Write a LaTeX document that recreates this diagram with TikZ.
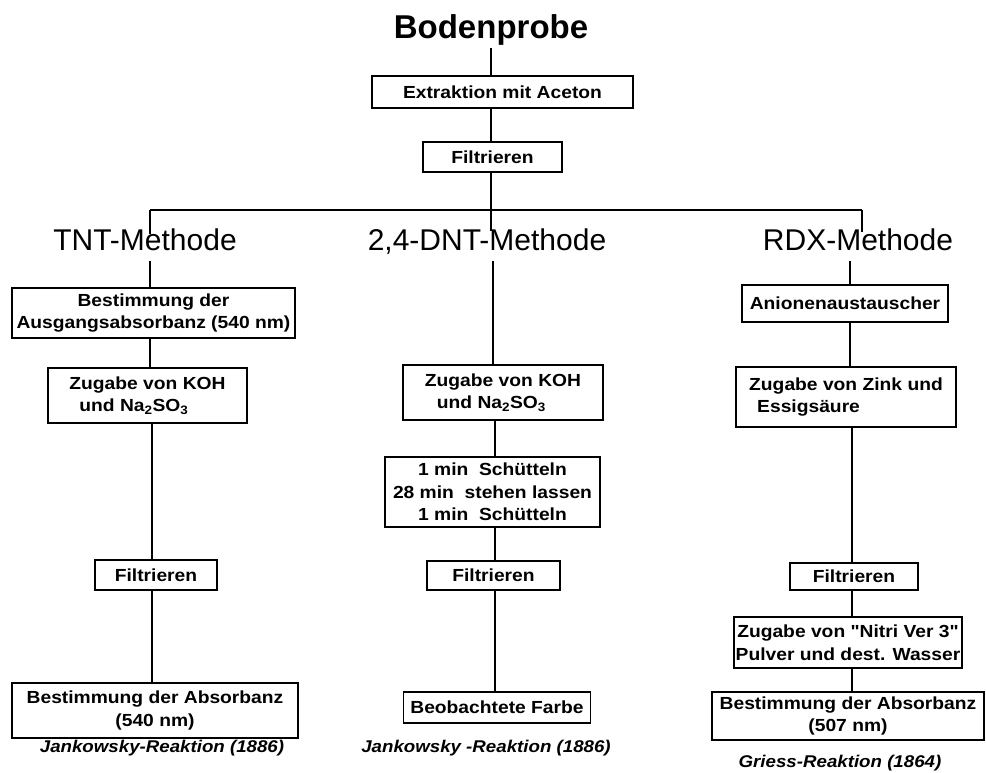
\documentclass[tikz,border=0pt]{standalone}
\usepackage{fontspec}
\setmainfont{Liberation Sans}
\newfontfamily\bx{Liberation Sans}[FakeStretch=1.1]
\begin{document}
\begin{tikzpicture}[x=1pt,y=-1pt,
  box/.style={draw, line width=1.8pt, inner sep=0pt, align=center,
    font=\bx\bfseries\fontsize{17.5}{22.5}\selectfont},
  conn/.style={line width=1.6pt},
  head/.style={anchor=base, inner sep=0pt, font=\fontsize{30}{36}\selectfont},
  capt/.style={anchor=base, inner sep=0pt, font=\bx\bfseries\itshape\fontsize{17}{20}\selectfont}]
\useasboundingbox (0,0) rectangle (986,772);

% title and top chain
\node[anchor=base, font=\bfseries\fontsize{33}{40}\selectfont] (title) at (491,38) {Bodenprobe};
\node[box, minimum width=261pt, minimum height=32pt] (extr) at (502.5,92) {Extraktion mit Aceton};
\node[box, minimum width=139pt, minimum height=30pt] (filt0) at (492.5,157) {Filtrieren};

% junction coordinates
\coordinate (jl) at (150,210);
\coordinate (jm) at (491,210);
\coordinate (jr) at (862,210);
\coordinate (tl) at (150,234);
\coordinate (dl) at (491,231);
\coordinate (rl) at (862,232);
\coordinate (tb) at (150,261);
\coordinate (db) at (493,261);
\coordinate (rb) at (850,261);
\coordinate (xT) at (152,0);
\coordinate (xD) at (495,0);
\coordinate (xR) at (852,0);

% headings
\node[head] (tnt) at (145,250) {TNT-Methode};
\node[head] (dnt) at (487,250) {2,4-DNT-Methode};
\node[head] (rdx) at (858,250) {RDX-Methode};

% TNT column
\node[box, minimum width=283pt, minimum height=50pt] (t1) at (153.5,313) {Bestimmung der\\Ausgangsabsorbanz (540 nm)};
\node[box, align=left, minimum width=199pt, minimum height=55pt] (t2) at (147.5,395.5) {Zugabe von KOH\\\hspace*{10pt}und Na\textsubscript{2}SO\textsubscript{3}};
\node[box, minimum width=122pt, minimum height=30pt] (t3) at (156,575) {Filtrieren};
\node[box, minimum width=286pt, minimum height=55pt] (t4) at (155,710.5) {Bestimmung der Absorbanz\\(540 nm)};
\node[capt] (c1) at (162,752) {Jankowsky-Reaktion (1886)};

% 2,4-DNT column
\node[box, align=left, minimum width=200pt, minimum height=55pt] (d1) at (503,392.5) {Zugabe von KOH\\\hspace*{12pt}und Na\textsubscript{2}SO\textsubscript{3}};
\node[box, minimum width=215pt, minimum height=70pt] (d2) at (492.5,492) {1 min\ \ Sch\"utteln\\28 min\ \ stehen lassen\\1 min\ \ Sch\"utteln};
\node[box, minimum width=133pt, minimum height=29pt] (d3) at (493.5,575.5) {Filtrieren};
\node[box, minimum width=187pt, minimum height=31pt] (d4) at (497,707.5) {Beobachtete Farbe};
\node[capt] (c2) at (486,752) {Jankowsky -Reaktion (1886)};

% RDX column
\node[box, minimum width=206pt, minimum height=37pt] (r1) at (845,303.5) {Anionenaustauscher};
\node[box, align=left, minimum width=220pt, minimum height=60pt] (r2) at (846,397) {Zugabe von Zink und\\\hspace*{8pt}Essigs\"aure};
\node[box, minimum width=128pt, minimum height=27pt] (r3) at (854,576.5) {Filtrieren};
\node[box, minimum width=228pt, minimum height=51pt] (r4) at (848,642.5) {Zugabe von "Nitri Ver 3"\\Pulver und dest. Wasser};
\node[box, minimum width=272pt, minimum height=48pt] (r5) at (848,716) {Bestimmung der Absorbanz\\(507 nm)};
\node[capt] (c3) at (840,767) {Griess-Reaktion (1864)};

% connectors top
\draw[conn] (title.south) -- (title.south |- extr.north);
\draw[conn] (extr.south -| jm) -- (filt0.north -| jm);
\draw[conn] (filt0.south -| jm) -- (jm);
\draw[conn] (jl) -- (jr);
\draw[conn] (jl) -- (tl);
\draw[conn] (jm) -- (dl);
\draw[conn] (jr) -- (rl);
\draw[conn] (tb) -- (tb |- t1.north);
\draw[conn] (db) -- (db |- d1.north);
\draw[conn] (rb) -- (rb |- r1.north);

% TNT connectors
\draw[conn] (t1.south -| tb) -- (t2.north -| tb);
\draw[conn] (t2.south -| xT) -- (t3.north -| xT);
\draw[conn] (t3.south -| xT) -- (t4.north -| xT);

% DNT connectors
\draw[conn] (d1.south -| xD) -- (d2.north -| xD);
\draw[conn] (d2.south -| xD) -- (d3.north -| xD);
\draw[conn] (d3.south -| xD) -- (d4.north -| xD);

% RDX connectors
\draw[conn] (r1.south -| rb) -- (r2.north -| rb);
\draw[conn] (r2.south -| xR) -- (r3.north -| xR);
\draw[conn] (r3.south -| xR) -- (r4.north -| xR);
\draw[conn] (r4.south -| xR) -- (r5.north -| xR);
\end{tikzpicture}
\end{document}
